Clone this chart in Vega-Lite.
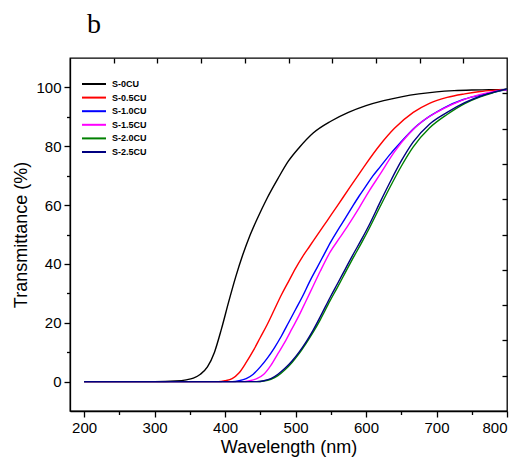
{
  "$schema": "https://vega.github.io/schema/vega-lite/v6.json",
  "width": 437,
  "height": 353,
  "autosize": {"type": "none"},
  "padding": {"left": 70, "top": 58, "right": 13, "bottom": 52},
  "background": "white",
  "title": {"text": "b", "anchor": "start", "frame": "group", "dx": 17, "offset": 25, "dy": 29, "baseline": "alphabetic", "font": "Liberation Serif", "fontSize": 28, "fontWeight": "normal", "color": "black"},
  "config": {
    "view": {"stroke": "black", "strokeWidth": 1.3},
    "axis": {"domainColor": "black", "domainWidth": 1.3, "tickColor": "black", "tickWidth": 1.3, "labelColor": "black", "titleColor": "black", "labelFont": "Liberation Sans", "titleFont": "Liberation Sans", "titleFontWeight": "normal", "grid": false}
  },
  "datasets": {
    "curves": [
      {"s": "S-0CU", "w": 200, "t": 0}, {"s": "S-0CU", "w": 250, "t": 0}, {"s": "S-0CU", "w": 300, "t": 0}, {"s": "S-0CU", "w": 330, "t": 0.2}, {"s": "S-0CU", "w": 345, "t": 0.6}, {"s": "S-0CU", "w": 355, "t": 1.2}, {"s": "S-0CU", "w": 365, "t": 2.5}, {"s": "S-0CU", "w": 375, "t": 5}, {"s": "S-0CU", "w": 385, "t": 10}, {"s": "S-0CU", "w": 395, "t": 18}, {"s": "S-0CU", "w": 405, "t": 27}, {"s": "S-0CU", "w": 415, "t": 35.5}, {"s": "S-0CU", "w": 425, "t": 43}, {"s": "S-0CU", "w": 435, "t": 49.5}, {"s": "S-0CU", "w": 445, "t": 55}, {"s": "S-0CU", "w": 460, "t": 62.5}, {"s": "S-0CU", "w": 475, "t": 69}, {"s": "S-0CU", "w": 490, "t": 75}, {"s": "S-0CU", "w": 505, "t": 79.5}, {"s": "S-0CU", "w": 525, "t": 84.5}, {"s": "S-0CU", "w": 550, "t": 88.5}, {"s": "S-0CU", "w": 575, "t": 91.5}, {"s": "S-0CU", "w": 600, "t": 93.8}, {"s": "S-0CU", "w": 625, "t": 95.5}, {"s": "S-0CU", "w": 650, "t": 96.8}, {"s": "S-0CU", "w": 675, "t": 97.8}, {"s": "S-0CU", "w": 700, "t": 98.5}, {"s": "S-0CU", "w": 725, "t": 98.9}, {"s": "S-0CU", "w": 750, "t": 99.1}, {"s": "S-0CU", "w": 775, "t": 99.2}, {"s": "S-0CU", "w": 800, "t": 99.3},

      {"s": "S-0.5CU", "w": 200, "t": 0}, {"s": "S-0.5CU", "w": 300, "t": 0}, {"s": "S-0.5CU", "w": 390, "t": 0}, {"s": "S-0.5CU", "w": 400, "t": 0.3}, {"s": "S-0.5CU", "w": 410, "t": 1}, {"s": "S-0.5CU", "w": 420, "t": 3}, {"s": "S-0.5CU", "w": 430, "t": 6.5}, {"s": "S-0.5CU", "w": 440, "t": 10.5}, {"s": "S-0.5CU", "w": 450, "t": 15}, {"s": "S-0.5CU", "w": 460, "t": 19.5}, {"s": "S-0.5CU", "w": 470, "t": 24.5}, {"s": "S-0.5CU", "w": 480, "t": 29.5}, {"s": "S-0.5CU", "w": 490, "t": 34}, {"s": "S-0.5CU", "w": 500, "t": 38.5}, {"s": "S-0.5CU", "w": 510, "t": 42.5}, {"s": "S-0.5CU", "w": 520, "t": 46}, {"s": "S-0.5CU", "w": 530, "t": 49.5}, {"s": "S-0.5CU", "w": 540, "t": 53}, {"s": "S-0.5CU", "w": 550, "t": 56.5}, {"s": "S-0.5CU", "w": 560, "t": 60}, {"s": "S-0.5CU", "w": 577, "t": 66}, {"s": "S-0.5CU", "w": 590, "t": 70.5}, {"s": "S-0.5CU", "w": 600, "t": 74}, {"s": "S-0.5CU", "w": 620, "t": 80.5}, {"s": "S-0.5CU", "w": 640, "t": 86}, {"s": "S-0.5CU", "w": 667, "t": 91.5}, {"s": "S-0.5CU", "w": 690, "t": 94.6}, {"s": "S-0.5CU", "w": 715, "t": 96.6}, {"s": "S-0.5CU", "w": 740, "t": 97.8}, {"s": "S-0.5CU", "w": 762, "t": 98.6}, {"s": "S-0.5CU", "w": 780, "t": 99}, {"s": "S-0.5CU", "w": 800, "t": 99.3},

      {"s": "S-1.0CU", "w": 200, "t": 0}, {"s": "S-1.0CU", "w": 300, "t": 0}, {"s": "S-1.0CU", "w": 410, "t": 0}, {"s": "S-1.0CU", "w": 420, "t": 0.3}, {"s": "S-1.0CU", "w": 430, "t": 1}, {"s": "S-1.0CU", "w": 440, "t": 2.5}, {"s": "S-1.0CU", "w": 450, "t": 5}, {"s": "S-1.0CU", "w": 460, "t": 8}, {"s": "S-1.0CU", "w": 470, "t": 11.5}, {"s": "S-1.0CU", "w": 480, "t": 15.5}, {"s": "S-1.0CU", "w": 490, "t": 20}, {"s": "S-1.0CU", "w": 500, "t": 24.5}, {"s": "S-1.0CU", "w": 510, "t": 29}, {"s": "S-1.0CU", "w": 520, "t": 34}, {"s": "S-1.0CU", "w": 530, "t": 38.5}, {"s": "S-1.0CU", "w": 540, "t": 43}, {"s": "S-1.0CU", "w": 550, "t": 47.5}, {"s": "S-1.0CU", "w": 560, "t": 51.5}, {"s": "S-1.0CU", "w": 570, "t": 55.3}, {"s": "S-1.0CU", "w": 580, "t": 59.2}, {"s": "S-1.0CU", "w": 590, "t": 63}, {"s": "S-1.0CU", "w": 600, "t": 66.5}, {"s": "S-1.0CU", "w": 610, "t": 70}, {"s": "S-1.0CU", "w": 620, "t": 73}, {"s": "S-1.0CU", "w": 635, "t": 77.5}, {"s": "S-1.0CU", "w": 648, "t": 81}, {"s": "S-1.0CU", "w": 670, "t": 86.5}, {"s": "S-1.0CU", "w": 691, "t": 90.3}, {"s": "S-1.0CU", "w": 710, "t": 93}, {"s": "S-1.0CU", "w": 738, "t": 95.9}, {"s": "S-1.0CU", "w": 770, "t": 97.8}, {"s": "S-1.0CU", "w": 800, "t": 99.3},

      {"s": "S-1.5CU", "w": 200, "t": 0}, {"s": "S-1.5CU", "w": 300, "t": 0}, {"s": "S-1.5CU", "w": 425, "t": 0}, {"s": "S-1.5CU", "w": 435, "t": 0.3}, {"s": "S-1.5CU", "w": 445, "t": 1}, {"s": "S-1.5CU", "w": 455, "t": 2.5}, {"s": "S-1.5CU", "w": 465, "t": 5.5}, {"s": "S-1.5CU", "w": 475, "t": 9.5}, {"s": "S-1.5CU", "w": 485, "t": 13.5}, {"s": "S-1.5CU", "w": 495, "t": 18}, {"s": "S-1.5CU", "w": 505, "t": 22.5}, {"s": "S-1.5CU", "w": 515, "t": 27.5}, {"s": "S-1.5CU", "w": 525, "t": 32.5}, {"s": "S-1.5CU", "w": 535, "t": 37.5}, {"s": "S-1.5CU", "w": 549, "t": 44}, {"s": "S-1.5CU", "w": 563, "t": 49}, {"s": "S-1.5CU", "w": 575, "t": 53.3}, {"s": "S-1.5CU", "w": 590, "t": 59}, {"s": "S-1.5CU", "w": 605, "t": 65}, {"s": "S-1.5CU", "w": 620, "t": 70.5}, {"s": "S-1.5CU", "w": 640, "t": 78}, {"s": "S-1.5CU", "w": 660, "t": 84}, {"s": "S-1.5CU", "w": 680, "t": 88.5}, {"s": "S-1.5CU", "w": 700, "t": 91.5}, {"s": "S-1.5CU", "w": 720, "t": 94}, {"s": "S-1.5CU", "w": 750, "t": 96.8}, {"s": "S-1.5CU", "w": 775, "t": 98.3}, {"s": "S-1.5CU", "w": 800, "t": 99.3},

      {"s": "S-2.0CU", "w": 200, "t": 0}, {"s": "S-2.0CU", "w": 300, "t": 0}, {"s": "S-2.0CU", "w": 445, "t": 0}, {"s": "S-2.0CU", "w": 455, "t": 0.2}, {"s": "S-2.0CU", "w": 465, "t": 0.8}, {"s": "S-2.0CU", "w": 475, "t": 2}, {"s": "S-2.0CU", "w": 485, "t": 4}, {"s": "S-2.0CU", "w": 495, "t": 6.5}, {"s": "S-2.0CU", "w": 505, "t": 9.5}, {"s": "S-2.0CU", "w": 515, "t": 13}, {"s": "S-2.0CU", "w": 525, "t": 16.8}, {"s": "S-2.0CU", "w": 535, "t": 21}, {"s": "S-2.0CU", "w": 549, "t": 27.5}, {"s": "S-2.0CU", "w": 560, "t": 32.3}, {"s": "S-2.0CU", "w": 570, "t": 36.8}, {"s": "S-2.0CU", "w": 580, "t": 41.3}, {"s": "S-2.0CU", "w": 594, "t": 47.3}, {"s": "S-2.0CU", "w": 605, "t": 52.3}, {"s": "S-2.0CU", "w": 620, "t": 59.5}, {"s": "S-2.0CU", "w": 636, "t": 67}, {"s": "S-2.0CU", "w": 650, "t": 73.2}, {"s": "S-2.0CU", "w": 667, "t": 79.8}, {"s": "S-2.0CU", "w": 690, "t": 86.2}, {"s": "S-2.0CU", "w": 715, "t": 90.8}, {"s": "S-2.0CU", "w": 740, "t": 94.5}, {"s": "S-2.0CU", "w": 762, "t": 96.8}, {"s": "S-2.0CU", "w": 780, "t": 98.2}, {"s": "S-2.0CU", "w": 800, "t": 99.5},

      {"s": "S-2.5CU", "w": 200, "t": 0}, {"s": "S-2.5CU", "w": 300, "t": 0}, {"s": "S-2.5CU", "w": 445, "t": 0}, {"s": "S-2.5CU", "w": 455, "t": 0.3}, {"s": "S-2.5CU", "w": 465, "t": 1}, {"s": "S-2.5CU", "w": 475, "t": 2.5}, {"s": "S-2.5CU", "w": 485, "t": 4.5}, {"s": "S-2.5CU", "w": 495, "t": 7}, {"s": "S-2.5CU", "w": 505, "t": 10}, {"s": "S-2.5CU", "w": 515, "t": 13.5}, {"s": "S-2.5CU", "w": 525, "t": 17.5}, {"s": "S-2.5CU", "w": 535, "t": 22}, {"s": "S-2.5CU", "w": 549, "t": 28.6}, {"s": "S-2.5CU", "w": 560, "t": 33.5}, {"s": "S-2.5CU", "w": 570, "t": 38}, {"s": "S-2.5CU", "w": 580, "t": 42.5}, {"s": "S-2.5CU", "w": 594, "t": 48.5}, {"s": "S-2.5CU", "w": 605, "t": 53.5}, {"s": "S-2.5CU", "w": 620, "t": 61}, {"s": "S-2.5CU", "w": 636, "t": 68.7}, {"s": "S-2.5CU", "w": 650, "t": 75}, {"s": "S-2.5CU", "w": 667, "t": 81.5}, {"s": "S-2.5CU", "w": 690, "t": 87.5}, {"s": "S-2.5CU", "w": 715, "t": 91.5}, {"s": "S-2.5CU", "w": 740, "t": 94.8}, {"s": "S-2.5CU", "w": 762, "t": 97}, {"s": "S-2.5CU", "w": 780, "t": 98.3}, {"s": "S-2.5CU", "w": 800, "t": 99.5}
    ]
  },
  "data": {"name": "curves"},
  "resolve": {"axis": {"x": "independent", "y": "independent"}},
  "layer": [
    {
      "mark": {"type": "line", "strokeWidth": 1.4, "interpolate": "monotone", "clip": true},
      "encoding": {
        "x": {"field": "w", "type": "quantitative", "scale": {"domain": [180, 800], "nice": false, "zero": false},
          "axis": {"orient": "bottom", "title": "Wavelength (nm)", "titleFontSize": 18, "titlePadding": 3, "labelFontSize": 15, "labelPadding": 3,
            "values": [200, 250, 300, 350, 400, 450, 500, 550, 600, 650, 700, 750, 800],
            "labelExpr": "datum.value % 100 === 0 ? datum.label : ''",
            "tickSize": {"condition": {"test": "datum.value % 100 !== 0", "value": 3.5}, "value": 6}}},
        "y": {"field": "t", "type": "quantitative", "scale": {"domain": [-10, 110], "nice": false, "zero": false},
          "axis": {"orient": "left", "title": "Transmittance (%)", "titleFontSize": 18, "titlePadding": 5, "labelFontSize": 15, "labelPadding": 3,
            "values": [0, 10, 20, 30, 40, 50, 60, 70, 80, 90, 100],
            "labelExpr": "datum.value % 20 === 0 ? datum.label : ''",
            "tickSize": {"condition": {"test": "datum.value % 20 !== 0", "value": 3.5}, "value": 6}}},
        "color": {"field": "s", "type": "nominal",
          "scale": {"domain": ["S-0CU", "S-0.5CU", "S-1.0CU", "S-1.5CU", "S-2.0CU", "S-2.5CU"], "range": ["#000000", "#ff0000", "#0000ff", "#ff00ff", "#008000", "#000080"]},
          "legend": {"orient": "none", "legendX": 18, "legendY": 20, "title": null, "padding": 0,
            "symbolType": "M-2.4,0H2.4", "symbolSize": 100, "symbolStrokeWidth": 2, "symbolFillColor": "transparent",
            "labelFont": "Liberation Sans", "labelFontSize": 9, "labelFontWeight": "bold", "labelColor": "black", "labelOffset": 12, "rowPadding": 2.6}}
      }
    },
    {
      "mark": {"type": "point", "opacity": 0},
      "encoding": {
        "x": {"field": "w", "type": "quantitative",
          "axis": {"orient": "top", "title": null, "labels": false, "domain": false, "tickSize": -5,
            "values": [242, 304, 366, 428, 490, 552, 614, 676, 738]}},
        "y": {"field": "t", "type": "quantitative",
          "axis": {"orient": "right", "title": null, "labels": false, "domain": false, "tickSize": -5,
            "values": [2, 14, 26, 38, 50, 62, 74, 86, 98]}}
      }
    }
  ]
}
